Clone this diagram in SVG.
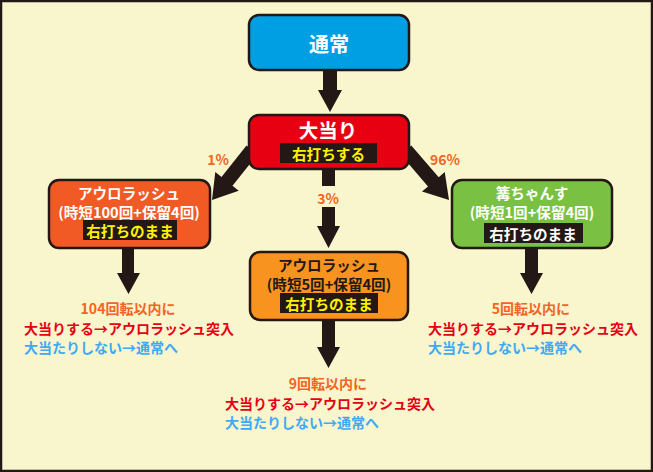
<svg xmlns="http://www.w3.org/2000/svg" width="653" height="472" viewBox="0 0 653 472">
<style>
text{font-family:"Noto Sans CJK JP","Noto Sans",sans-serif;font-weight:700;dominant-baseline:central;text-anchor:middle}
.box{stroke:#231815;stroke-width:2.5}
.lab{fill:#231815}
.arrow{fill:#231815}
.w{fill:#ffffff}
.y{fill:#fff100}
.k{fill:#231815}
.o{fill:#f26522}
.r{fill:#e60012}
.b{fill:#3fa9f5}
.l{text-anchor:start}
.t{font-size:14.6px}
</style>
<rect x="1" y="1" width="651" height="470" fill="#f9f5cd" stroke="#231815" stroke-width="2.5"/>
<g id="connectors">
<polygon class="arrow" points="323,68 337,68 337,90 342,90 330,112 318,90 323,90"/>
<polygon class="arrow" points="257.5,154.4 232.5,185.7 238.7,190.7 212,200 215.3,171.9 221.5,176.9 246.5,145.6"/>
<polygon class="arrow" points="411.3,145.4 438.7,177.2 444.7,172 449,200 422,191.6 428,186.4 400.7,154.6"/>
<rect class="arrow" x="322" y="168" width="13" height="18"/>
<polygon class="arrow" points="322,207 335,207 335,226 340,226 328.5,248 317,226 322,226"/>
<text class="o" x="328" y="198" font-size="14">3%</text>
<text class="o" x="218" y="159" font-size="14">1%</text>
<text class="o" x="445" y="159" font-size="14">96%</text>
<polygon class="arrow" points="122,246 134,246 134,273 140,273 128.5,294 117,273 122,273"/>
<polygon class="arrow" points="525,246 538,246 538,273 543,273 531.5,294 520,273 525,273"/>
<polygon class="arrow" points="322,318 335,318 335,347 340,347 328.5,368 317,347 322,347"/>
</g>
<g id="node-tsujo">
<rect class="box" x="249" y="15" width="160" height="55" rx="10" fill="#009fe3"/>
<text class="w" x="329" y="43" font-size="20">通常</text>
</g>
<g id="node-oatari">
<rect class="box" x="249" y="115" width="160" height="54" rx="10" fill="#e60012"/>
<text class="w" x="328" y="129.5" font-size="19.5">大当り</text>
<rect class="lab" x="280" y="143" width="97" height="20"/>
<text class="y" x="328.5" y="153.5" font-size="14.6">右打ちする</text>
</g>
<g id="node-left">
<rect class="box" x="49" y="180" width="161" height="68" rx="10" fill="#f15a24"/>
<text class="w t" x="129" y="192">アウロラッシュ</text>
<text class="w t" x="129" y="211">(時短100回+保留4回)</text>
<rect class="lab" x="83" y="220" width="94" height="20"/>
<text class="y t" x="130" y="230">右打ちのまま</text>
</g>
<g id="node-center">
<rect class="box" x="250" y="252" width="158" height="68" rx="10" fill="#f7931e"/>
<text class="k t" x="329" y="264">アウロラッシュ</text>
<text class="k t" x="329" y="283">(時短5回+保留4回)</text>
<rect class="lab" x="280" y="293" width="98" height="20"/>
<text class="y t" x="329" y="303">右打ちのまま</text>
</g>
<g id="node-right">
<rect class="box" x="452" y="180" width="160" height="68" rx="10" fill="#7ac143"/>
<text class="w t" x="532" y="192">篝ちゃんす</text>
<text class="w t" x="532" y="211">(時短1回+保留4回)</text>
<rect class="lab" x="484" y="223" width="99" height="20"/>
<text class="w t" x="533" y="233">右打ちのまま</text>
</g>
<g id="note-left">
<text class="o" x="128" y="308" font-size="14">104回転以内に</text>
<text class="r l" x="24" y="328" font-size="14">大当りする→アウロラッシュ突入</text>
<text class="b l" x="24" y="347" font-size="14">大当たりしない→通常へ</text>
</g>
<g id="note-center">
<text class="o" x="328" y="383" font-size="14">9回転以内に</text>
<text class="r l" x="225" y="403" font-size="14">大当りする→アウロラッシュ突入</text>
<text class="b l" x="225" y="422" font-size="14">大当たりしない→通常へ</text>
</g>
<g id="note-right">
<text class="o" x="531" y="308" font-size="14">5回転以内に</text>
<text class="r l" x="428" y="328" font-size="14">大当りする→アウロラッシュ突入</text>
<text class="b l" x="428" y="347" font-size="14">大当たりしない→通常へ</text>
</g>
</svg>
